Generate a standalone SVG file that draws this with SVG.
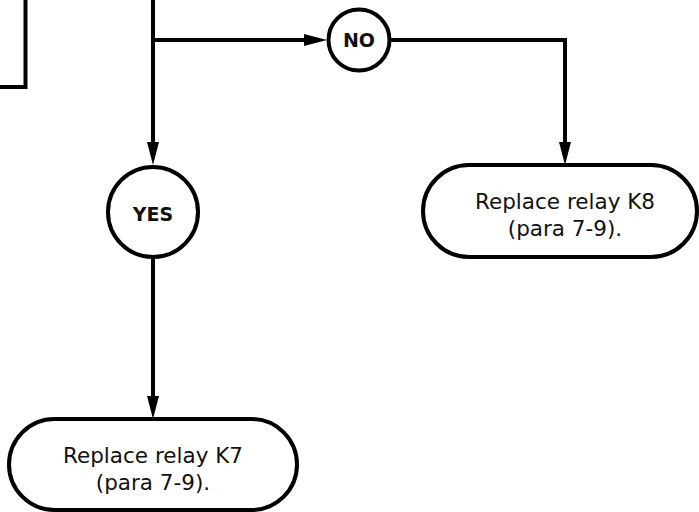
<svg xmlns="http://www.w3.org/2000/svg" width="699" height="512" viewBox="0 0 699 512">
  <style>
    .ln { fill: none; stroke: #000; stroke-width: 4; }
    .shape { fill: #fff; stroke: #000; stroke-width: 4; }
    .lbl { font-family: "DejaVu Sans", sans-serif; font-size: 21.5px; fill: #111; text-anchor: middle; }
    .dec { font-family: "DejaVu Sans", sans-serif; font-size: 19px; font-weight: bold; fill: #111; text-anchor: middle; }
  </style>
  <defs>
    <marker id="arr" viewBox="0 0 23 12" refX="8" refY="6" markerWidth="23" markerHeight="12" markerUnits="userSpaceOnUse" orient="auto">
      <path d="M0,0 L23,6 L0,12 z" fill="#000"/>
    </marker>
  </defs>
  <rect width="699" height="512" fill="#fff"/>
  <g id="connectors">
    <path class="ln" d="M25.5,0 V87 H0"/>
    <path class="ln" d="M153,0 V150" marker-end="url(#arr)"/>
    <path class="ln" d="M153,40 H312" marker-end="url(#arr)"/>
    <path class="ln" d="M390,40 H565 V150" marker-end="url(#arr)"/>
    <path class="ln" d="M153,258 V404" marker-end="url(#arr)"/>
  </g>
  <g id="node-no">
    <circle class="shape" cx="359" cy="40" r="30.5"/>
    <text class="dec" x="359" y="47">NO</text>
  </g>
  <g id="node-yes">
    <circle class="shape" cx="153" cy="212" r="45"/>
    <text class="dec" x="153" y="221">YES</text>
  </g>
  <g id="node-k8">
    <rect class="shape" x="423" y="165" width="274" height="92" rx="46" ry="46"/>
    <text class="lbl" x="565" y="209">Replace relay K8</text>
    <text class="lbl" x="565" y="236">(para 7-9).</text>
  </g>
  <g id="node-k7">
    <rect class="shape" x="9" y="419" width="288" height="91" rx="45.5" ry="45.5"/>
    <text class="lbl" x="153" y="463">Replace relay K7</text>
    <text class="lbl" x="153" y="490">(para 7-9).</text>
  </g>
</svg>
